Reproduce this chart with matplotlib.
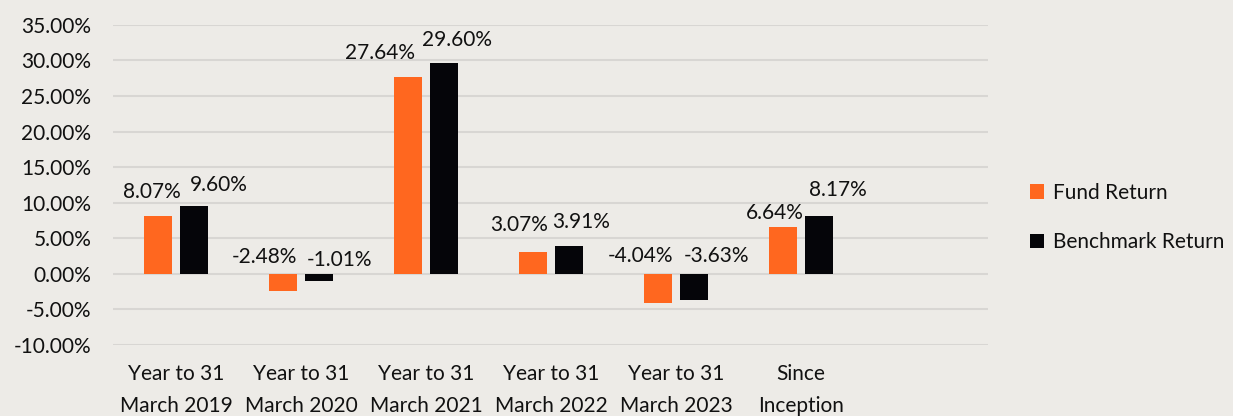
import matplotlib
matplotlib.use('Agg')
import matplotlib.pyplot as plt
import numpy as np

# dados do grafico
categorias = ['Year to 31\nMarch 2019', 'Year to 31\nMarch 2020', 'Year to 31\nMarch 2021',
              'Year to 31\nMarch 2022', 'Year to 31\nMarch 2023', 'Since\nInception']
fund_return = [8.07, -2.48, 27.64, 3.07, -4.04, 6.64]
benchmark_return = [9.60, -1.01, 29.60, 3.91, -3.63, 8.17]
y_ticks = [-10, -5, 0, 5, 10, 15, 20, 25, 30, 35]

# deslocamento dos rotulos (pixels), imitando o Excel
fund_off = [(-6, 24), (-19, 17), (-28, 24), (-14, 27), (-17, 18), (-8, 14)]
bench_off = [(25, 21), (21, 14), (13, 23), (12, 24), (23, 18), (19, 26)]

ORANGE = '#FF671F'
BLACK = '#050509'
BG = '#EDEBE7'
FS = 15

plt.rcParams['font.family'] = ['Lato', 'DejaVu Sans']

fig = plt.figure(figsize=(12.33, 4.16), dpi=100, facecolor=BG)
ax = fig.add_axes([0.092, 0.1707, 0.7097, 0.7697], facecolor=BG)

x = np.arange(len(categorias))
w = 0.22
off = 0.144
ax.bar(x - off, fund_return, w, color=ORANGE, label='Fund Return', zorder=3)
ax.bar(x + off, benchmark_return, w, color=BLACK, label='Benchmark Return', zorder=3)

for i in range(len(categorias)):
    ax.annotate(f'{fund_return[i]:.2f}%', xy=(x[i] - off, max(fund_return[i], 0)),
                xytext=fund_off[i], textcoords='offset pixels', ha='center', va='center',
                fontsize=FS, color='#111111')
    ax.annotate(f'{benchmark_return[i]:.2f}%', xy=(x[i] + off, max(benchmark_return[i], 0)),
                xytext=bench_off[i], textcoords='offset pixels', ha='center', va='center',
                fontsize=FS, color='#111111')

ax.set_xlim(-0.5, 6.5)
ax.set_ylim(-10, 35)
ax.set_yticks(y_ticks)
ax.set_yticklabels([f'{v:.2f}%' for v in y_ticks])
ax.set_xticks(x)
ax.set_xticklabels(categorias, linespacing=1.7)
ax.tick_params(axis='both', length=0, labelsize=FS, colors='#111111')
ax.tick_params(axis='y', pad=16)
ax.tick_params(axis='x', pad=14)
ax.grid(axis='y', color='#D8D6D3', linewidth=1.5, zorder=0)
for s in ax.spines.values():
    s.set_visible(False)

fig.legend(loc='center left', bbox_to_anchor=(0.82, 0.477), frameon=False,
           fontsize=FS, handlelength=0.7, handleheight=0.7, handletextpad=0.4,
           labelspacing=1.4, labelcolor='#111111')

plt.savefig('out.png', dpi=100, facecolor=BG)
